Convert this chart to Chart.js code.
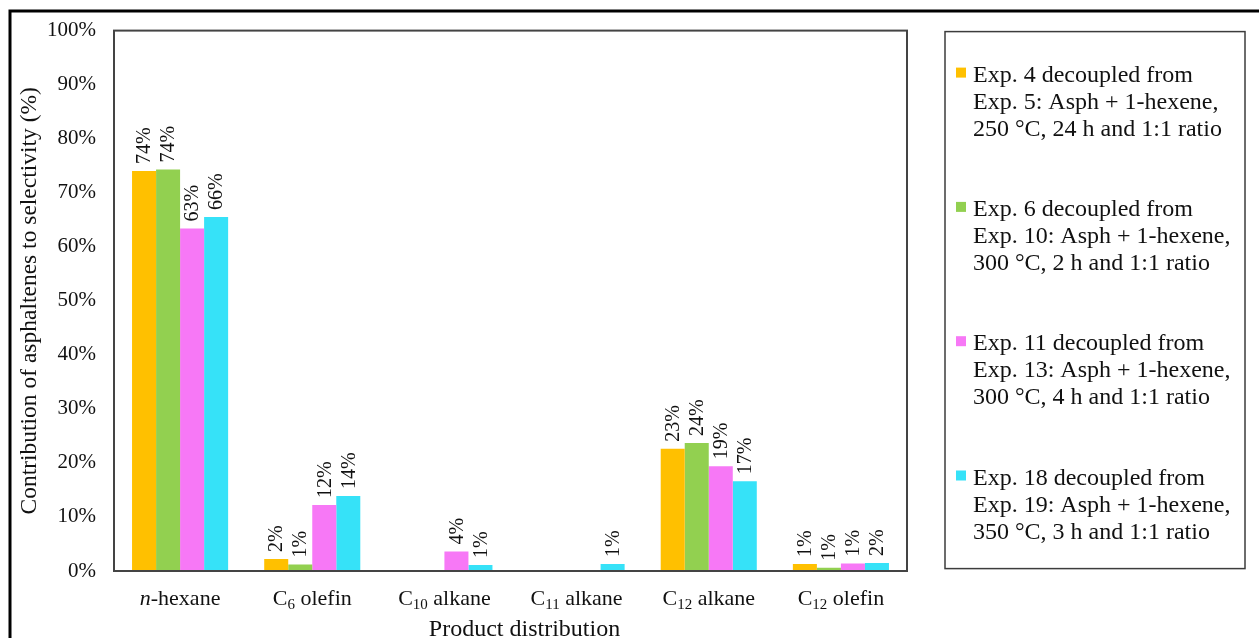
<!DOCTYPE html>
<html>
<head>
<meta charset="utf-8">
<script src="https://cdn.jsdelivr.net/npm/chart.js@4.4.1/dist/chart.umd.min.js"></script>
<style>
  html, body { margin: 0; padding: 0; background: #ffffff; }
  #wrap { width: 1259px; height: 638px; }
</style>
</head>
<body>
<div id="wrap"><canvas id="c" width="1259" height="638"></canvas></div>
<script>
// Product categories along the x axis
const categories = ['n-hexane', 'C6 olefin', 'C10 alkane', 'C11 alkane', 'C12 alkane', 'C12 olefin'];

// Contribution of asphaltenes to selectivity (%), one array per experiment
const exp4  = [74.0, 2.2, null, null, 22.6, 1.3];
const exp6  = [74.3, 1.2, null, null, 23.7, 0.6];
const exp11 = [63.4, 12.2, 3.6, null, 19.4, 1.4];
const exp18 = [65.5, 13.9, 1.1, 1.3, 16.6, 1.5];

// Legend text for each experiment (one entry per line)
const exp4Label  = ['Exp. 4 decoupled from', 'Exp. 5: Asph + 1-hexene,', '250 °C, 24 h and 1:1 ratio'];
const exp6Label  = ['Exp. 6 decoupled from', 'Exp. 10: Asph + 1-hexene,', '300 °C, 2 h and 1:1 ratio'];
const exp11Label = ['Exp. 11 decoupled from', 'Exp. 13: Asph + 1-hexene,', '300 °C, 4 h and 1:1 ratio'];
const exp18Label = ['Exp. 18 decoupled from', 'Exp. 19: Asph + 1-hexene,', '350 °C, 3 h and 1:1 ratio'];

// Axis titles
const xTitle = 'Product distribution';
const yTitle = 'Contribution of asphaltenes to selectivity (%)';

// Y axis range and tick step (%)
const yMin = 0;
const yMax = 100;
const yStep = 10;

const SERIF = '"Liberation Serif", "Times New Roman", serif';
const TEXT = '#111111';

// Rotated value labels above every bar
const barValueLabels = {
  id: 'barValueLabels',
  afterDatasetsDraw(chart) {
    const ctx = chart.ctx;
    ctx.save();
    ctx.font = '20px ' + SERIF;
    ctx.fillStyle = TEXT;
    ctx.textAlign = 'left';
    ctx.textBaseline = 'middle';
    chart.data.datasets.forEach((ds, di) => {
      const meta = chart.getDatasetMeta(di);
      meta.data.forEach((bar, i) => {
        const v = ds.data[i];
        if (v === null || v === undefined) return;
        ctx.save();
        ctx.translate(bar.x + 1, bar.y - 7);
        ctx.rotate(-Math.PI / 2);
        ctx.fillText(Math.round(v) + '%', 0, 0);
        ctx.restore();
      });
    });
    ctx.restore();
  }
};

// Category labels with subscripts (C6, C10 ...) and italic n, plus the x-axis title
const richCategoryLabels = {
  id: 'richCategoryLabels',
  afterDraw(chart) {
    const ctx = chart.ctx;
    const xs = chart.scales.x;
    const a = chart.chartArea;
    const y = a.bottom + 28;
    const size = 22;
    const sub = 15;
    ctx.save();
    ctx.fillStyle = TEXT;
    ctx.textBaseline = 'middle';
    ctx.textAlign = 'left';
    categories.forEach((label, i) => {
      let parts;
      const mC = label.match(/^C(\d+)(.*)$/);
      const mN = label.match(/^n(-.*)$/);
      if (mC) {
        parts = [
          { t: 'C', font: size + 'px ' + SERIF, dy: 0 },
          { t: mC[1], font: sub + 'px ' + SERIF, dy: 6 },
          { t: mC[2], font: size + 'px ' + SERIF, dy: 0 }
        ];
      } else if (mN) {
        parts = [
          { t: 'n', font: 'italic ' + size + 'px ' + SERIF, dy: 0 },
          { t: mN[1], font: size + 'px ' + SERIF, dy: 0 }
        ];
      } else {
        parts = [{ t: label, font: size + 'px ' + SERIF, dy: 0 }];
      }
      let total = 0;
      parts.forEach(p => { ctx.font = p.font; p.w = ctx.measureText(p.t).width; total += p.w; });
      let x = xs.getPixelForTick(i) - total / 2;
      parts.forEach(p => {
        ctx.font = p.font;
        ctx.fillText(p.t, x, y + p.dy);
        x += p.w;
      });
    });
    // x-axis title, centred a little right of the plot centre
    ctx.font = '24px ' + SERIF;
    ctx.textAlign = 'center';
    ctx.textBaseline = 'alphabetic';
    ctx.fillText(xTitle, (a.left + a.right) / 2 + 14, a.bottom + 65);
    ctx.restore();
  }
};

// Outer frame, plot-area border and the boxed legend
const frameAndLegend = {
  id: 'frameAndLegend',
  afterDraw(chart) {
    const ctx = chart.ctx;
    const a = chart.chartArea;
    ctx.save();
    // plot area border
    ctx.strokeStyle = '#444444';
    ctx.lineWidth = 2;
    ctx.strokeRect(a.left, a.top, a.right - a.left, a.bottom - a.top);
    // outer frame
    ctx.strokeStyle = '#000000';
    ctx.lineWidth = 3;
    ctx.strokeRect(10, 11, 1400, 800);
    // legend box
    const lx = a.right + 38, ly = a.top + 1, lw = 300, lh = 537;
    ctx.strokeStyle = '#3c3c3c';
    ctx.lineWidth = 1.5;
    ctx.strokeRect(lx, ly, lw, lh);
    ctx.font = '24px ' + SERIF;
    ctx.textAlign = 'left';
    ctx.textBaseline = 'alphabetic';
    chart.data.datasets.forEach((ds, i) => {
      const base = ly + 50 + i * 134.3;
      ctx.fillStyle = ds.backgroundColor;
      ctx.fillRect(lx + 11, base - 14, 10, 10);
      ctx.fillStyle = TEXT;
      ds.label.forEach((line, j) => {
        ctx.fillText(line, lx + 28, base + j * 27);
      });
    });
    ctx.restore();
  }
};

new Chart(document.getElementById('c'), {
  type: 'bar',
  data: {
    labels: categories,
    datasets: [
      { label: exp4Label,  data: exp4,  backgroundColor: '#FFC000' },
      { label: exp6Label,  data: exp6,  backgroundColor: '#92D050' },
      { label: exp11Label, data: exp11, backgroundColor: '#F778F6' },
      { label: exp18Label, data: exp18, backgroundColor: '#36E2F8' }
    ]
  },
  options: {
    responsive: false,
    animation: false,
    devicePixelRatio: 1,
    layout: { padding: { top: 29, right: 352, bottom: 0, left: 0 } },
    datasets: { bar: { categoryPercentage: 0.727, barPercentage: 1.0, borderWidth: 0 } },
    plugins: { legend: { display: false }, tooltip: { enabled: false } },
    scales: {
      x: {
        grid: { display: false, drawTicks: false },
        border: { display: false },
        ticks: { display: false },
        title: { display: false },
        afterFit(scale) { scale.height = 67; }
      },
      y: {
        min: yMin,
        max: yMax,
        grid: { display: false, drawTicks: false },
        border: { display: false },
        ticks: {
          stepSize: yStep,
          padding: 18,
          color: TEXT,
          font: { family: SERIF, size: 21 },
          callback: v => v + '%'
        },
        title: {
          display: true,
          text: yTitle,
          color: TEXT,
          font: { family: SERIF, size: 23.5 },
          padding: { top: 16, bottom: 0 }
        },
        afterFit(scale) { scale.width = 114; }
      }
    }
  },
  plugins: [barValueLabels, richCategoryLabels, frameAndLegend]
});
</script>
</body>
</html>
